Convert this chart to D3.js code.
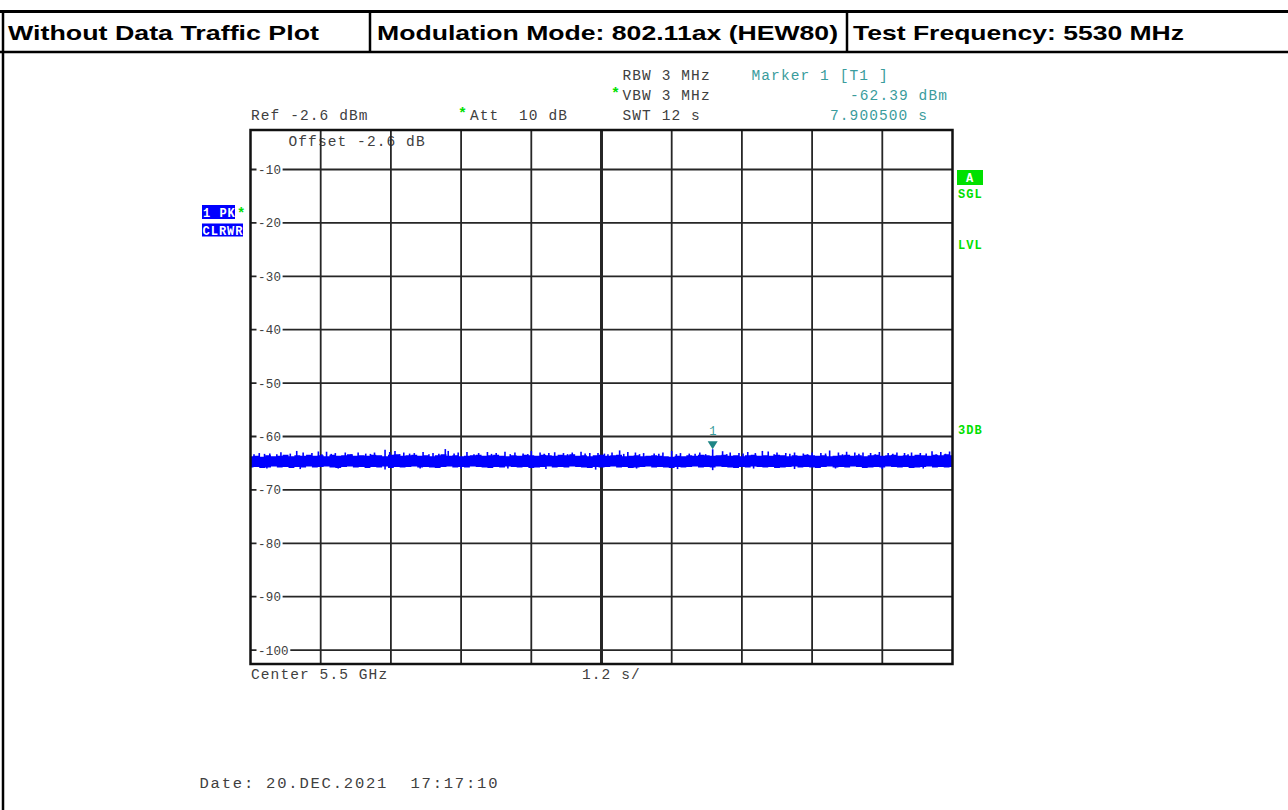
<!DOCTYPE html>
<html>
<head>
<meta charset="utf-8">
<script src="https://cdn.jsdelivr.net/npm/d3@7"></script>
<style>
  body { margin: 0; background: #fff; }
  svg { display: block; }
  .mono { font-family: "Liberation Mono", "DejaVu Sans Mono", monospace; white-space: pre; }
</style>
</head>
<body>
<div id="chart"></div>
<script>
// --- Data ---
const headerCells = ["Without Data Traffic Plot", "Modulation Mode: 802.11ax (HEW80)", "Test Frequency: 5530 MHz"];
const yTicks = [-10, -20, -30, -40, -50, -60, -70, -80, -90, -100];
const refLevel = -2.6;          // dBm, top of the screen
const sweepTime = 12;           // s
const marker = { t: 7.9005, level: -62.39 };

// upper / lower edge of the noise band, sampled along the sweep (dBm)
const bandTop = [
  -63.7,-63.6,-63.8,-63.5,-63.7,-63.6,-63.4,-63.7,-63.5,-63.6,
  -63.4,-63.6,-63.5,-63.7,-63.4,-63.6,-63.5,-63.3,-63.6,-63.5,
  -63.6,-63.4,-63.5,-63.7,-63.4,-63.3,-63.6,-63.5,-63.4,-63.6,
  -63.5,-63.7,-63.5,-63.3,-63.6,-63.5,-63.7,-63.6,-63.5,-63.4,
  -63.6,-63.5,-63.4,-63.6,-63.7,-63.5,-63.6,-63.4,-63.5,-63.6,
  -63.4,-63.5,-63.6,-63.4,-63.5,-63.3,-63.6,-63.5,-63.7,-63.5,
  -63.4,-63.6,-63.5,-63.4,-63.7,-63.6,-63.5,-63.7,-63.6,-63.5,
  -63.6,-63.7,-63.8,-63.6,-63.7,-63.5,-63.6,-63.4,-63.5,-63.6,
  -63.5,-63.4,-63.6,-63.5,-63.7,-63.5,-63.4,-63.6,-63.5,-63.6,
  -63.4,-63.5,-63.7,-63.5,-63.6,-63.4,-63.5,-63.6,-63.5,-63.7,
  -63.6,-63.5,-63.4,-63.6,-63.5,-63.7,-63.5,-63.4,-63.6,-63.5,
  -63.4,-63.6,-63.5,-63.6,-63.4,-63.5,-63.6,-63.4,-63.5,-63.3,
  -63.5
];
const bandBottom = [
  -65.8,-65.7,-65.9,-65.8,-65.6,-65.8,-65.7,-65.9,-65.7,-65.8,
  -65.6,-65.8,-65.7,-65.6,-65.8,-65.9,-65.7,-65.6,-65.8,-65.7,
  -65.9,-65.7,-65.8,-65.6,-65.9,-65.7,-65.8,-65.7,-65.6,-65.8,
  -65.7,-65.8,-65.9,-65.7,-65.6,-65.8,-65.7,-65.8,-65.6,-65.7,
  -65.8,-65.9,-65.7,-65.8,-65.6,-65.7,-65.8,-65.7,-65.9,-65.8,
  -65.7,-65.6,-65.8,-65.7,-65.8,-65.6,-65.7,-65.8,-65.9,-65.7,
  -65.8,-65.7,-65.6,-65.8,-65.7,-65.9,-65.8,-65.7,-65.6,-65.8,
  -65.7,-65.8,-65.9,-65.7,-65.8,-65.7,-65.6,-65.8,-65.7,-65.8,
  -65.6,-65.7,-65.8,-65.9,-65.7,-65.8,-65.6,-65.7,-65.8,-65.7,
  -65.9,-65.8,-65.7,-65.6,-65.8,-65.7,-65.8,-65.9,-65.7,-65.6,
  -65.8,-65.7,-65.8,-65.6,-65.7,-65.9,-65.8,-65.7,-65.8,-65.6,
  -65.7,-65.8,-65.7,-65.9,-65.8,-65.7,-65.6,-65.8,-65.7,-65.8,
  -65.7
];
// narrow peaks sticking out of the band: [time s, level dBm]
const spikes = [
  [0.15,-63.1],[0.33,-63.2],[0.52,-62.95],[0.79,-62.7],[0.9,-63.0],[1.05,-63.1],
  [1.16,-62.8],[1.3,-62.85],[1.45,-63.1],[1.62,-63.0],[1.84,-63.0],[1.97,-63.2],
  [2.12,-63.0],[2.3,-62.5],[2.38,-62.9],[2.47,-62.7],[2.62,-63.0],[2.8,-63.1],
  [2.95,-62.9],[3.12,-63.1],[3.33,-62.35],[3.38,-62.7],[3.55,-63.0],[3.7,-62.9],
  [3.9,-63.1],[4.05,-62.9],[4.2,-63.1],[4.35,-62.85],[4.52,-63.0],[4.66,-63.2],
  [4.8,-62.7],[4.95,-63.0],[5.1,-63.1],[5.2,-62.95],[5.35,-63.1],[5.5,-63.0],
  [5.65,-62.85],[5.8,-63.1],[5.94,-63.1],[6.05,-63.2],[6.18,-63.0],[6.31,-62.6],
  [6.45,-62.9],[6.58,-63.0],[6.72,-63.1],[6.9,-63.2],[7.05,-63.0],[7.2,-62.7],
  [7.35,-63.1],[7.5,-63.2],[7.68,-63.0],[7.9005,-62.39],[8.07,-62.75],[8.2,-63.0],
  [8.35,-63.1],[8.5,-62.9],[8.63,-63.1],[8.75,-62.7],[8.85,-62.8],[9.0,-63.0],
  [9.15,-63.1],[9.3,-63.0],[9.45,-63.2],[9.6,-63.0],[9.75,-63.1],[9.9,-62.6],
  [10.05,-63.0],[10.19,-62.85],[10.33,-63.0],[10.47,-63.0],[10.6,-63.1],[10.75,-62.9],
  [10.9,-63.1],[11.05,-63.0],[11.18,-63.1],[11.3,-63.0],[11.45,-63.1],[11.65,-62.75],
  [11.8,-62.9],[11.95,-62.8],
  [0.06,-63.3],[0.24,-63.25],[0.45,-63.3],[0.68,-63.2],[1.22,-63.3],[1.38,-63.25],
  [1.72,-63.3],[2.05,-63.25],[2.55,-63.3],[2.72,-63.2],[3.05,-63.3],[3.22,-63.25],
  [3.48,-63.2],[3.82,-63.3],[4.12,-63.25],[4.44,-63.3],[4.74,-63.3],[5.02,-63.25],
  [5.42,-63.3],[5.72,-63.2],[6.11,-63.3],[6.38,-63.25],[6.65,-63.3],[6.98,-63.25],
  [7.28,-63.3],[7.6,-63.25],[7.78,-63.3],[8.14,-63.3],[8.42,-63.2],[8.95,-63.3],
  [9.22,-63.25],[9.52,-63.3],[9.83,-63.2],[10.12,-63.3],[10.4,-63.25],[10.68,-63.3],
  [10.98,-63.25],[11.24,-63.3],[11.55,-63.2],[11.72,-63.3],[11.88,-63.25],
  [0.28,-66.0],[0.85,-66.1],[1.5,-66.0],[2.3,-66.2],[2.9,-66.0],[3.6,-66.1],
  [4.4,-66.0],[5.05,-66.1],[5.9,-66.2],[6.6,-66.0],[7.3,-66.1],[7.9005,-66.3],
  [8.6,-66.0],[9.3,-66.1],[10.0,-66.0],[10.8,-66.1],[11.5,-66.0]
];

// --- Layout ---
const W = 1288, H = 810;
const frame = { left: 250.5, right: 952.5, top: 130, bottom: 664 };
const txtGrey = "#404040", teal = "#3a9c9c", green = "#00e000", blue = "#0000ff";

const svg = d3.select("#chart").append("svg")
  .attr("width", W).attr("height", H);
svg.append("rect").attr("width", W).attr("height", H).attr("fill", "#fff");

// --- Header table ---
const head = svg.append("g");
head.append("line").attr("x1", 0).attr("x2", W).attr("y1", 11.5).attr("y2", 11.5)
  .attr("stroke", "#000").attr("stroke-width", 3);
head.append("line").attr("x1", 0).attr("x2", W).attr("y1", 52).attr("y2", 52)
  .attr("stroke", "#000").attr("stroke-width", 2.5);
[3, 370, 847].forEach((x, i) => {
  head.append("line").attr("x1", x).attr("x2", x)
    .attr("y1", 10).attr("y2", (i === 0) ? H : 53)
    .attr("stroke", "#000").attr("stroke-width", 2.5);
});
const headX = [8, 377, 853], headLen = [311, 461, 331];
head.selectAll("text.head").data(headerCells).join("text")
  .attr("class", "head")
  .attr("x", (d, i) => headX[i]).attr("y", 39.5)
  .attr("textLength", (d, i) => headLen[i]).attr("lengthAdjust", "spacingAndGlyphs")
  .attr("font-family", "'Liberation Sans', Arial, sans-serif")
  .attr("font-weight", "bold").attr("font-size", 21)
  .text(d => d);

// --- Scales ---
const x = d3.scaleLinear().domain([0, sweepTime]).range([frame.left, frame.right]);
const y = d3.scaleLinear().domain([refLevel - 100, refLevel]).range([frame.bottom, frame.top]);

// monospace helper with the instrument's wide character pitch
function mono(g, str, xPos, yPos, opts = {}) {
  const size = opts.size || 14.5;
  const pitch = opts.pitch || 9.8;
  return g.append("text")
    .attr("class", "mono")
    .attr("x", xPos).attr("y", yPos)
    .attr("font-size", size)
    .attr("letter-spacing", pitch - size * 0.6)
    .attr("fill", opts.fill || txtGrey)
    .attr("font-weight", opts.weight || "normal")
    .text(str);
}

const ann = svg.append("g");
mono(ann, "Ref -2.6 dBm", 251, 119.5);
mono(ann, "*", 458, 118, { fill: green, size: 15, pitch: 9, weight: "bold" });
mono(ann, "Att  10 dB", 470, 119.5);
mono(ann, "RBW 3 MHz", 622.5, 80);
mono(ann, "*", 611, 98, { fill: green, size: 15, pitch: 9, weight: "bold" });
mono(ann, "VBW 3 MHz", 622.5, 99.5);
mono(ann, "SWT 12 s", 622.5, 119.5);
mono(ann, "Marker 1 [T1 ]", 751.5, 80, { fill: teal });
mono(ann, "-62.39 dBm", 850, 99.5, { fill: teal });
mono(ann, "7.900500 s", 830, 119.5, { fill: teal });
mono(ann, "Offset -2.6 dB", 288.5, 146);
mono(ann, "Center 5.5 GHz", 251, 678.5);
mono(ann, "1.2 s/", 582, 678.5);
mono(ann, "Date: 20.DEC.2021  17:17:10", 199.5, 788, { size: 15.5, pitch: 11.1 });

// --- Grid ---
const grid = svg.append("g");
const xDivs = d3.range(1, 10).map(i => i * sweepTime / 10);
grid.selectAll("line.v").data(xDivs).join("line")
  .attr("class", "v")
  .attr("x1", d => x(d)).attr("x2", d => x(d))
  .attr("y1", frame.top).attr("y2", frame.bottom)
  .attr("stroke", "#262626").attr("stroke-width", (d, i) => i === 4 ? 3 : 1.8);
grid.selectAll("line.h").data(yTicks).join("line")
  .attr("class", "h")
  .attr("x1", frame.left).attr("x2", frame.right)
  .attr("y1", d => y(d)).attr("y2", d => y(d))
  .attr("stroke", "#262626").attr("stroke-width", 1.8);

// tick labels knocked out of the grid lines
const tickG = grid.selectAll("g.tick").data(yTicks).join("g").attr("class", "tick");
tickG.append("rect")
  .attr("x", 256.5).attr("y", d => y(d) - 5)
  .attr("width", d => (String(d).length) * 7.7 + 3).attr("height", 10)
  .attr("fill", "#fff");
tickG.append("text")
  .attr("class", "mono")
  .attr("x", 258).attr("y", d => y(d) + 4.5)
  .attr("font-size", 12.5).attr("letter-spacing", 7.7 - 7.5)
  .attr("fill", txtGrey)
  .text(d => d);

// --- Trace ---
svg.append("clipPath").attr("id", "clip").append("rect")
  .attr("x", frame.left).attr("y", frame.top)
  .attr("width", frame.right - frame.left).attr("height", frame.bottom - frame.top);
const trace = svg.append("g").attr("clip-path", "url(#clip)");
const n = bandTop.length;
const band = bandTop.map((v, i) => ({ t: i * sweepTime / (n - 1), hi: v, lo: bandBottom[i] }));
trace.append("path")
  .datum(band)
  .attr("fill", blue)
  .attr("d", d3.area().curve(d3.curveStep)
    .x(d => x(d.t)).y0(d => y(d.lo)).y1(d => y(d.hi)));
trace.selectAll("line.spike").data(spikes).join("line")
  .attr("class", "spike")
  .attr("x1", d => x(d[0])).attr("x2", d => x(d[0]))
  .attr("y1", y(-64.7)).attr("y2", d => y(d[1]))
  .attr("stroke", blue).attr("stroke-width", 1.6);

// --- Frame ---
svg.append("rect")
  .attr("x", frame.left).attr("y", frame.top)
  .attr("width", frame.right - frame.left).attr("height", frame.bottom - frame.top)
  .attr("fill", "none").attr("stroke", "#111").attr("stroke-width", 2.5);

// --- Marker ---
const mx = x(marker.t), my = y(marker.level);
svg.append("path")
  .attr("d", `M${mx - 5},${my - 8}L${mx + 5},${my - 8}L${mx},${my}Z`)
  .attr("fill", "#1f8585");
mono(svg, "1", mx - 3.5, my - 14, { fill: teal, size: 12, pitch: 7.5 });

// --- Trace info boxes (left) ---
const left = svg.append("g");
left.append("rect").attr("x", 202).attr("y", 205).attr("width", 33).attr("height", 14).attr("fill", blue);
mono(left, "1 PK", 203, 216.5, { fill: "#fff", size: 12, pitch: 8.2, weight: "bold" });
mono(left, "*", 237, 218, { fill: green, size: 14, pitch: 8, weight: "bold" });
left.append("rect").attr("x", 202).attr("y", 223.5).attr("width", 41).attr("height", 13).attr("fill", blue);
mono(left, "CLRWR", 202.5, 234.5, { fill: "#fff", size: 12, pitch: 8.2, weight: "bold" });

// --- Status labels (right) ---
const right = svg.append("g");
right.append("rect").attr("x", 957).attr("y", 170).attr("width", 26).attr("height", 15).attr("fill", green);
mono(right, "A", 966, 181.5, { fill: "#fff", size: 12, pitch: 8, weight: "bold" });
mono(right, "SGL", 958, 197.5, { fill: green, size: 12, pitch: 8.2, weight: "bold" });
mono(right, "LVL", 958, 248.5, { fill: green, size: 12, pitch: 8.2, weight: "bold" });
mono(right, "3DB", 958, 433.5, { fill: green, size: 12, pitch: 8.2, weight: "bold" });
</script>
</body>
</html>
